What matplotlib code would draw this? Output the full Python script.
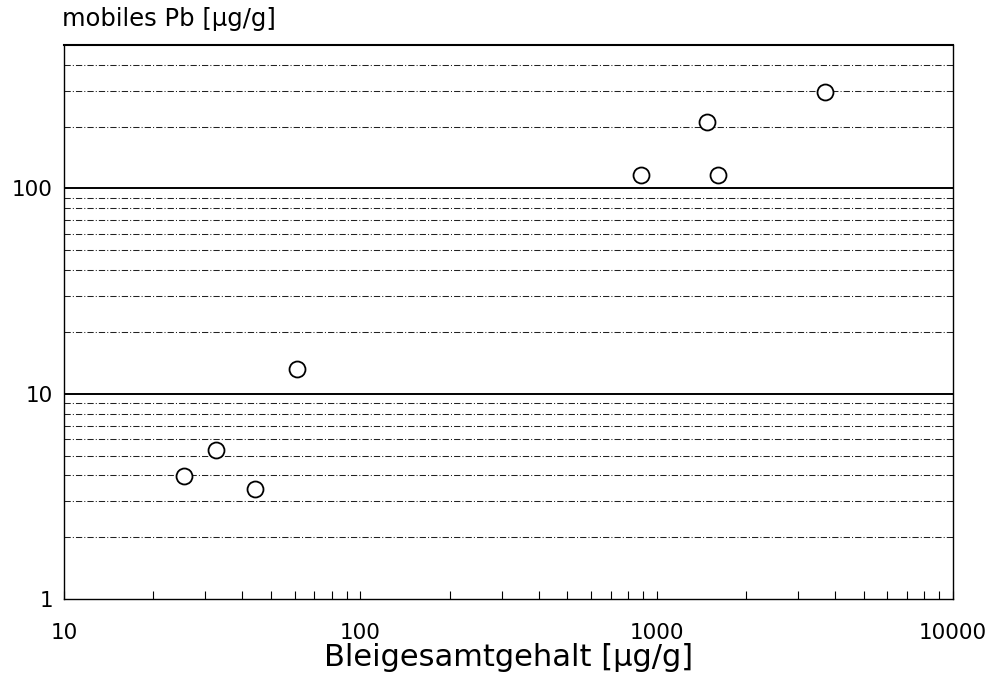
import numpy as np
import matplotlib.pyplot as plt
from matplotlib.ticker import FixedLocator, NullFormatter

# Daten
gesamt_pb = [25.4, 32.7, 44.1, 61.0, 885, 1476, 1608, 3700]   # Bleigesamtgehalt [ug/g]
mobil_pb = [3.97, 5.35, 3.45, 13.2, 116.6, 211, 116.6, 296]   # mobiles Pb [ug/g]

x_ticks = [10, 100, 1000, 10000]
x_ticklabels = ['10', '100', '1000', '10000']
y_ticks = [1, 10, 100]
y_ticklabels = ['1', '10', '100']

plt.rcParams['font.family'] = ['DejaVu Sans']

fig = plt.figure(figsize=(10, 6.91), dpi=100)
ax = fig.add_axes([0.064, 0.1331, 0.889, 0.8018])
ax.set_xscale('log')
ax.set_yscale('log')
ax.set_xlim(10, 10000)
ax.set_ylim(1, 500)

# horizontale Gitterlinien
minor_y = [m * 10.0 ** e for e in range(0, 3) for m in range(2, 10) if m * 10.0 ** e < 500]
for yv in minor_y:
    ax.axhline(yv, color='#222222', lw=0.75, ls=(0, (6, 2, 1, 2)), zorder=1)
for yv in [10, 100]:
    ax.axhline(yv, color='black', lw=1.4, zorder=1)

ax.plot(gesamt_pb, mobil_pb, 'o', ms=11.5, mfc='white', mec='black', mew=1.3, zorder=3)

ax.xaxis.set_major_locator(FixedLocator(x_ticks))
ax.set_xticklabels(x_ticklabels)
ax.xaxis.set_minor_locator(FixedLocator([m * 10.0 ** e for e in range(1, 4) for m in range(2, 10)]))
ax.xaxis.set_minor_formatter(NullFormatter())
ax.tick_params(axis='x', which='both', direction='in', length=6, width=0.8, pad=17, labelsize=15.5)

ax.yaxis.set_major_locator(FixedLocator(y_ticks))
ax.set_yticklabels(y_ticklabels)
ax.yaxis.set_minor_locator(FixedLocator([]))
ax.tick_params(axis='y', which='both', length=0, pad=8, labelsize=15.5)

for s in ax.spines.values():
    s.set_linewidth(1.0)
ax.spines['top'].set_linewidth(1.5)

fig.text(0.062, 0.972, 'mobiles Pb [µg/g]', fontsize=17.5, ha='left', va='center')
ax.set_xlabel('Bleigesamtgehalt [µg/g]', fontsize=22, labelpad=0)

fig.savefig('out.png', dpi=100)
